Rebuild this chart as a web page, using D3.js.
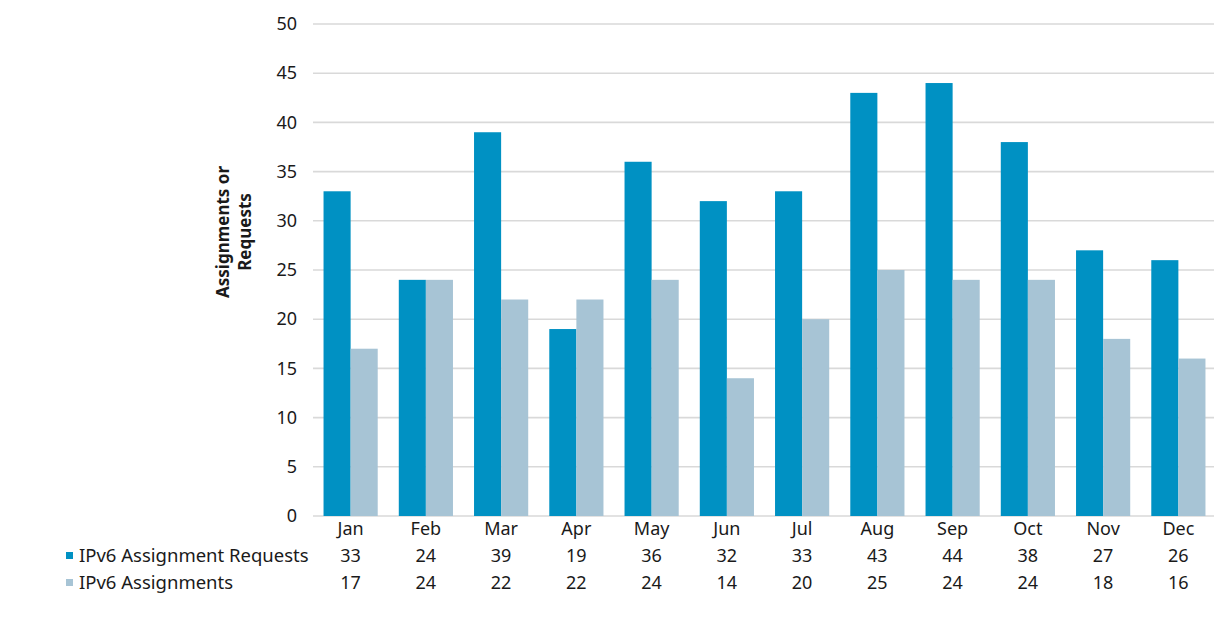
<!DOCTYPE html>
<meta charset="utf-8">
<script src="https://d3js.org/d3.v7.min.js"></script>
<html>
<head>
<style>
  body { margin: 0; background: #fff; }
  text { font-family: "Noto Sans", sans-serif; fill: #1a1a1a; }
</style>
</head>
<body>
<div id="chart"></div>
<script>
// chart data
var months = ["Jan", "Feb", "Mar", "Apr", "May", "Jun", "Jul", "Aug", "Sep", "Oct", "Nov", "Dec"];
var seriesNames = ["IPv6 Assignment Requests", "IPv6 Assignments"];
var requests = [33, 24, 39, 19, 36, 32, 33, 43, 44, 38, 27, 26];
var assignments = [17, 24, 22, 22, 24, 14, 20, 25, 24, 24, 18, 16];
var yTicks = [0, 5, 10, 15, 20, 25, 30, 35, 40, 45, 50];
var colors = ["#0091c3", "#a7c4d5"];

var W = 1214, H = 629;
var margin = {top: 24, left: 313, right: -2, bottom: 113};
var innerW = W - margin.left - margin.right,
    innerH = H - margin.top - margin.bottom;

var svg = d3.select("#chart").append("svg")
    .attr("width", W)
    .attr("height", H);

var g = svg.append("g")
    .attr("transform", "translate(" + margin.left + "," + margin.top + ")");

var x = d3.scaleBand().domain(months).range([0, innerW]).paddingInner(0.28).paddingOuter(0.14);
var x1 = d3.scaleBand().domain([0, 1]).range([0, x.bandwidth()]);
var y = d3.scaleLinear().domain([0, 50]).range([innerH, 0]);

// gridlines
g.selectAll(".grid")
  .data(yTicks)
  .enter().append("line")
    .attr("x1", 0)
    .attr("x2", innerW)
    .attr("y1", function(d) { return y(d); })
    .attr("y2", function(d) { return y(d); })
    .attr("stroke", "#d9d9d9")
    .attr("stroke-width", 1.6);

// y axis labels
var yAxis = g.append("g").call(d3.axisLeft(y).tickValues(yTicks).tickSize(0).tickPadding(16));
yAxis.select(".domain").remove();
yAxis.selectAll("text")
    .style("font-family", "'Noto Sans', sans-serif")
    .style("font-size", "18px")
    .attr("fill", "#1a1a1a");

var series = [requests, assignments];

var groups = g.selectAll(".month")
  .data(months)
  .enter().append("g")
    .attr("transform", function(d) { return "translate(" + x(d) + ",0)"; });

groups.selectAll("rect")
  .data(function(d, i) { return series.map(function(s, k) { return {k: k, v: s[i]}; }); })
  .enter().append("rect")
    .attr("x", function(d) { return x1(d.k); })
    .attr("width", x1.bandwidth())
    .attr("y", function(d) { return y(d.v); })
    .attr("height", function(d) { return innerH - y(d.v); })
    .attr("fill", function(d) { return colors[d.k]; });

// month labels
g.selectAll(".mlabel")
  .data(months)
  .enter().append("text")
    .attr("x", function(d) { return x(d) + x.bandwidth() / 2; })
    .attr("y", innerH + 19)
    .attr("text-anchor", "middle")
    .style("font-size", "18px")
    .text(function(d) { return d; });

// data table rows
series.forEach(function(s, k) {
  var rowY = innerH + 46 + k * 27;
  g.selectAll(".val" + k)
    .data(s)
    .enter().append("text")
      .attr("x", function(d, i) { return x(months[i]) + x.bandwidth() / 2; })
      .attr("y", rowY)
      .attr("text-anchor", "middle")
      .style("font-size", "18px")
      .text(function(d) { return d; });

  svg.append("rect")
      .attr("x", 66)
      .attr("y", margin.top + rowY - 10)
      .attr("width", 7)
      .attr("height", 7)
      .attr("fill", colors[k]);

  svg.append("text")
      .attr("x", 79)
      .attr("y", margin.top + rowY)
      .style("font-size", "18.5px")
      .text(seriesNames[k]);
});

// y axis title
var title = svg.append("text")
    .attr("transform", "translate(233,232) rotate(-90)")
    .attr("text-anchor", "middle")
    .style("font-size", "17px")
    .style("font-weight", "bold");
title.append("tspan").attr("x", 0).attr("dy", "-0.25em").text("Assignments or");
title.append("tspan").attr("x", 0).attr("dy", "1.3em").text("Requests");
</script>
</body>
</html>
